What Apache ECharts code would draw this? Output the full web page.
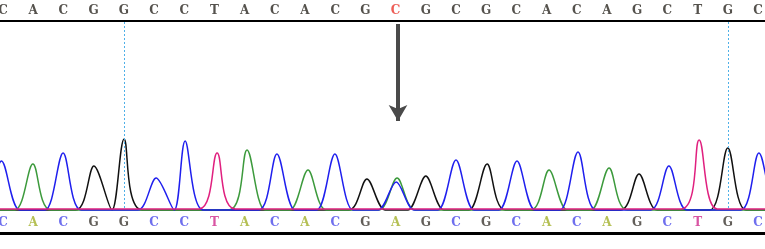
<!DOCTYPE html>
<html>
<head>
<meta charset="utf-8">
<script src="https://cdn.jsdelivr.net/npm/echarts@6/dist/echarts.min.js"></script>
<style>html,body{margin:0;padding:0;background:#fff;}#c{width:765px;height:249px;}</style>
</head>
<body>
<div id="c"></div>
<script>
// ---- data (base index positions, signal heights) ----
var topSeq    = ["C","A","C","G","G","C","C","T","A","C","A","C","G","C","G","C","G","C","A","C","A","G","C","T","G","C"];
var bottomSeq = ["C","A","C","G","G","C","C","T","A","C","A","C","G","A","G","C","G","C","A","C","A","G","C","T","G","C"];
var mismatchIndex = 13;
var markedBases = [4, 24];
// peaks: [position, height]
var peaksC = [[-0.05,49],[1.99,57],[5.07,32],[6.03,69],[9.07,56],[10.99,56],[13.02,28],[15.0,50],[17.02,49],[19.04,58],[22.05,44],[25.03,57]];
var peaksA = [[0.99,46],[8.08,60],[10.1,40],[13.05,32],[18.08,40],[20.07,42]];
var peaksG = [[3.01,44],[4.01,71],[12.05,31],[14.0,34],[16.03,46],[21.06,36],[24.0,62]];
var peaksT = [[7.09,56],[23.05,69]];

// ---- layout / style ----
var PX0 = 3, PXSTEP = 30.2, W = 765;
var HALF = 0.6;
var colors = { C: '#1f1fee', A: '#3c9a3c', G: '#111111', T: '#e0207f' };
var letterColors = { C: '#4b4bea', A: '#a3b02a', G: '#3b3630', T: '#cf2b8c' };
var XMIN = -PX0 / PXSTEP, XMAX = (W - PX0) / PXSTEP;

function trace(peaks, base) {
  var pts = [[XMIN - 1, base]];
  peaks.forEach(function (p) {
    var l = p[0] - HALF, r = p[0] + HALF;
    var last = pts[pts.length - 1];
    if (l > last[0]) pts.push([l, base]);
    pts.push([p[0], p[1] + base]);
    pts.push([r, base]);
  });
  pts.push([XMAX + 1, base]);
  return pts;
}
function lineSeries(peaks, col, base, z) {
  return {
    type: 'line', data: trace(peaks, base), smooth: 0.3, showSymbol: false, symbol: 'none',
    lineStyle: { color: col, width: 1.5 }, z: z, silent: true, clip: true
  };
}
function letters(seq, y, top) {
  return seq.map(function (b, i) {
    var c = top ? (i === mismatchIndex ? '#e8342c' : '#2b2721') : letterColors[b];
    return { value: [i, y], label: { formatter: b, color: c } };
  });
}

var chart = echarts.init(document.getElementById('c'), null, { renderer: 'canvas' });
var yTop = 209 - 11, yBot = 209 - 223;
chart.setOption({
  animation: false,
  grid: { left: 0, right: 0, top: 0, bottom: 0 },
  xAxis: { type: 'value', min: XMIN, max: XMAX, show: false },
  yAxis: { type: 'value', min: -40, max: 209, show: false },
  series: [
    {
      type: 'line', data: [[0, -100]], silent: true, symbol: 'none', lineStyle: { width: 0 },
      markLine: {
        silent: true, symbol: ['none', 'none'], label: { show: false }, animation: false,
        data: [
          { yAxis: 188, lineStyle: { color: '#000', width: 2, type: 'solid' } },
          { yAxis: -24, lineStyle: { color: '#000', width: 3, type: 'solid' } }
        ].concat(markedBases.map(function (i) {
          return [{ coord: [i, 187], lineStyle: { color: '#4fb0e8', width: 1, type: [2, 2] } }, { coord: [i, 0] }];
        }))
      }
    },
    lineSeries(peaksG, colors.G, -1, 2),
    lineSeries(peaksA, colors.A, -1, 3),
    lineSeries(peaksC, colors.C, -1, 4),
    lineSeries(peaksT, colors.T, 0, 5),
    {
      type: 'line', data: [[0, -100]], silent: true, symbol: 'none', lineStyle: { width: 0 },
      markLine: {
        silent: true, symbol: ['none', 'arrow'], symbolSize: [14, 16], label: { show: false }, animation: false,
        data: [[{ coord: [mismatchIndex + 0.08, 185], lineStyle: { color: '#4a4a4a', width: 4, type: 'solid' } }, { coord: [mismatchIndex + 0.08, 88] }]]
      },
      z: 6
    },
    {
      type: 'scatter', symbolSize: 0, silent: true, z: 7,
      label: { show: true, position: 'inside', fontFamily: 'DejaVu Serif', fontWeight: 'bold', fontSize: 12 },
      data: letters(topSeq, yTop, true)
    },
    {
      type: 'scatter', symbolSize: 0, silent: true, z: 7,
      label: { show: true, position: 'inside', fontFamily: 'DejaVu Serif', fontWeight: 'bold', fontSize: 12 },
      data: letters(bottomSeq, yBot, false)
    }
  ]
});
</script>
</body>
</html>
